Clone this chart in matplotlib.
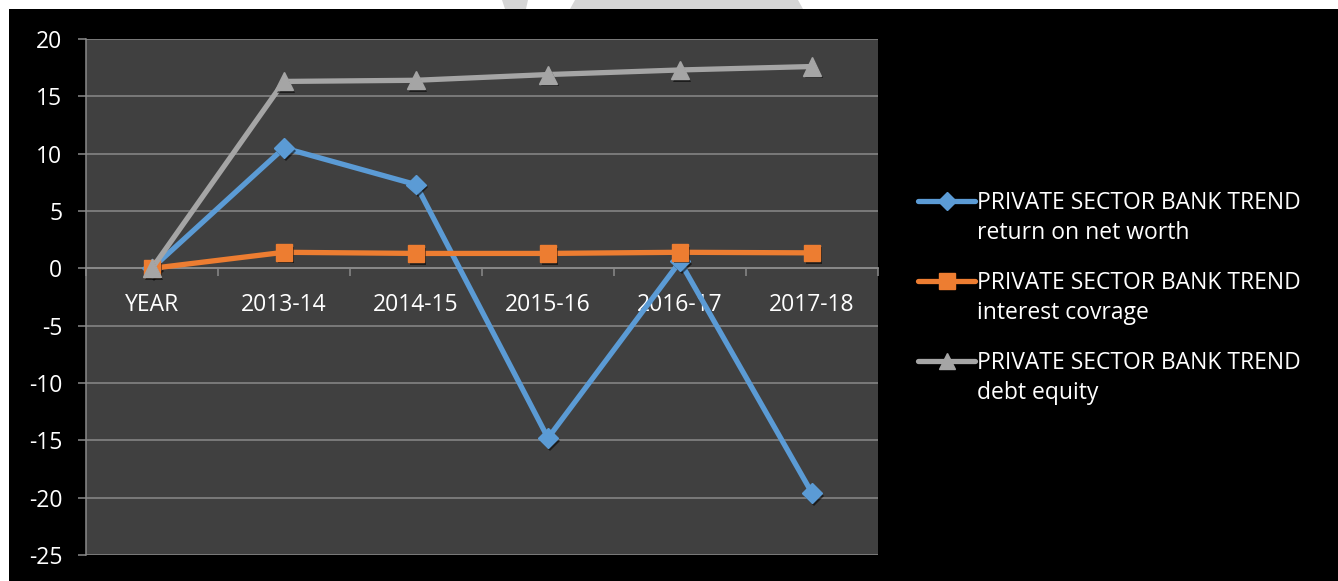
import matplotlib
matplotlib.use("Agg")
import matplotlib.pyplot as plt
import numpy as np
from matplotlib.patches import Rectangle, Polygon
from matplotlib.lines import Line2D
import matplotlib.patheffects as pe
from matplotlib.ticker import FixedLocator, NullFormatter, FixedFormatter

categories = ["YEAR", "2013-14", "2014-15", "2015-16", "2016-17", "2017-18"]
return_on_net_worth = [0, 10.5, 7.3, -14.8, 0.6, -19.6]
interest_coverage = [0, 1.4, 1.3, 1.3, 1.4, 1.35]
debt_equity = [0, 16.3, 16.4, 16.9, 17.3, 17.6]
series_names = [
    "PRIVATE SECTOR BANK TREND\nreturn on net worth",
    "PRIVATE SECTOR BANK TREND\ninterest covrage",
    "PRIVATE SECTOR BANK TREND\ndebt equity",
]
y_ticks = [20, 15, 10, 5, 0, -5, -10, -15, -20, -25]

W, H = 1338, 581
FONT = "Open Sans"
FS = 16.5
plt.rcParams['font.family'] = [FONT, 'DejaVu Sans']
plt.rcParams['axes.unicode_minus'] = False

fig = plt.figure(figsize=(W / 100, H / 100), dpi=100, facecolor="black")

def fx(x):
    return x / W

def fy(y):
    return 1 - y / H

# white margins and watermark fragments
fig.add_artist(Rectangle((0, fy(9)), 1, 9 / H, transform=fig.transFigure,
                         facecolor="white", edgecolor="none", zorder=0))
fig.add_artist(Rectangle((0, 0), 9 / W, 1, transform=fig.transFigure,
                         facecolor="white", edgecolor="none", zorder=0))
fig.add_artist(Polygon([(fx(502), fy(0)), (fx(528), fy(0)), (fx(526), fy(9)), (fx(505), fy(9))],
                       closed=True, transform=fig.transFigure, facecolor="#d6d6d6",
                       edgecolor="none", zorder=1))
fig.add_artist(Polygon([(fx(575), fy(0)), (fx(798), fy(0)), (fx(803), fy(9)), (fx(570), fy(9))],
                       closed=True, transform=fig.transFigure, facecolor="#d6d6d6",
                       edgecolor="none", zorder=1))

ax = fig.add_axes([fx(86), fy(555), (878 - 86) / W, (555 - 39) / H])
ax.set_facecolor("#404040")
ax.set_xlim(-0.5, len(categories) - 0.5)
ax.set_ylim(-25, 20)

grid_c = "#8a8a8a"
ax.set_yticks(y_ticks)
ax.yaxis.grid(True, color=grid_c, linewidth=1.1)
ax.set_axisbelow(True)
ax.tick_params(axis="y", colors=grid_c, length=6, width=1.1, pad=11, labelsize=FS,
               labelcolor="white")
for s in ["top", "right"]:
    ax.spines[s].set_visible(False)
ax.spines["left"].set_color(grid_c)
ax.spines["left"].set_linewidth(1.1)
ax.spines["bottom"].set_position(("data", 0))
ax.spines["bottom"].set_color(grid_c)
ax.spines["bottom"].set_linewidth(1.3)

x = np.arange(len(categories))
ax.xaxis.set_major_locator(FixedLocator(np.arange(-0.5, len(categories))))
ax.xaxis.set_major_formatter(NullFormatter())
ax.xaxis.set_minor_locator(FixedLocator(x))
ax.xaxis.set_minor_formatter(FixedFormatter(categories))
ax.tick_params(axis="x", which="major", colors=grid_c, length=5.5, width=1.1, direction="out")
ax.tick_params(axis="x", which="minor", length=0, pad=18, labelsize=FS, labelcolor="white")

colors = ["#5B9BD5", "#ED7D31", "#A5A5A5"]
markers = ["D", "s", "^"]
msizes = [10, 12, 13]
data = [return_on_net_worth, interest_coverage, debt_equity]
shadow = [pe.SimplePatchShadow(offset=(1.5, -2), alpha=0.55, shadow_rgbFace="black"), pe.Normal()]
for i, (vals, c, m, ms) in enumerate(zip(data, colors, markers, msizes)):
    ax.plot(x, vals, color=c, linewidth=3.8, zorder=3 + 2 * i, solid_capstyle="round",
            solid_joinstyle="round")
    ax.plot(x, vals, linestyle="none", marker=m, markersize=ms, markerfacecolor=c,
            markeredgecolor=c, zorder=4 + 2 * i, path_effects=shadow, clip_on=False)

# legend (manual)
leg_y = [201, 281, 361]
for name, c, m, ms, yy in zip(series_names, colors, markers, msizes, leg_y):
    fig.add_artist(Line2D([fx(918), fx(975)], [fy(yy), fy(yy)], transform=fig.transFigure,
                          color=c, linewidth=3.8, solid_capstyle="round"))
    fig.add_artist(Line2D([fx(946.5)], [fy(yy)], transform=fig.transFigure, marker=m,
                          markersize=ms - 1, color=c, linestyle="none"))
    fig.text(fx(977), fy(yy - 10), name, color="white", fontsize=FS, va="top", ha="left",
             linespacing=1.32)

fig.savefig("out.png", dpi=100, facecolor="black")
